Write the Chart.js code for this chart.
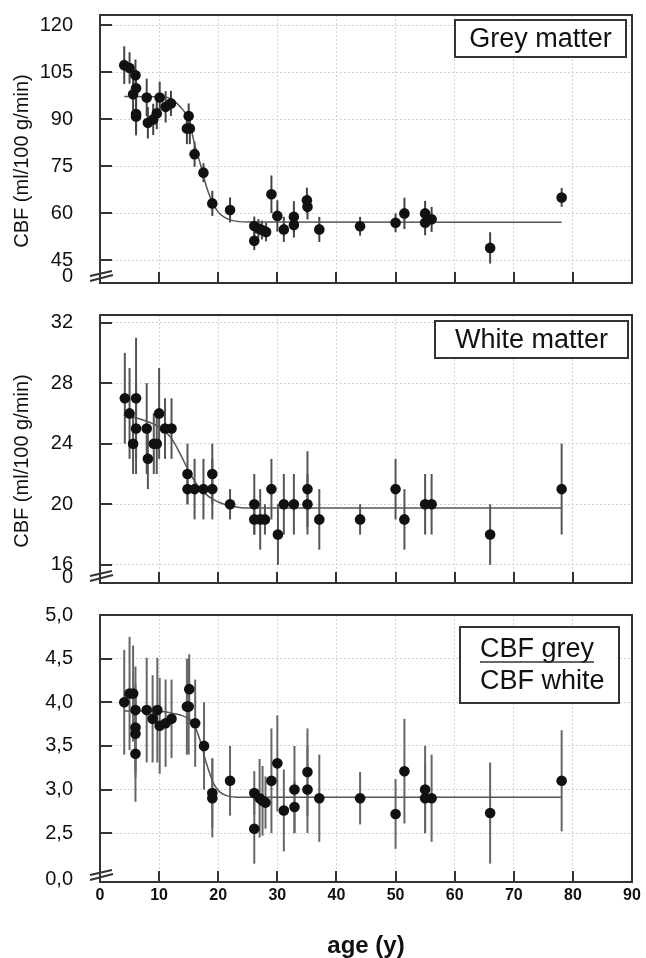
<!DOCTYPE html>
<html>
<head>
<meta charset="utf-8">
<script src="https://cdn.jsdelivr.net/npm/chart.js@4.4.0/dist/chart.umd.min.js"></script>
<style>
  body { margin: 0; background: #fff; }
  canvas { position: absolute; left: 0; }
</style>
</head>
<body>
<canvas id="greyChart" width="646" height="300" style="top:0"></canvas>
<canvas id="whiteChart" width="646" height="290" style="top:300px"></canvas>
<canvas id="ratioChart" width="646" height="368" style="top:590px"></canvas>
<script>
// x axis (age in years)
const ageTicks = [0, 10, 20, 30, 40, 50, 60, 70, 80, 90];

// Grey matter CBF (ml/100 g/min)
const greyAge = [4.1, 5.0, 6.0, 6.1, 5.6, 6.1, 6.1, 7.9, 8.1, 9.0, 9.6, 10.1, 11.1, 12.0, 15.0, 14.7, 15.2, 16.0, 17.5, 19.0, 22.0, 26.1, 26.1, 26.8, 27.4, 28.1, 29.0, 30.0, 31.1, 32.8, 32.8, 35.0, 35.1, 37.1, 44.0, 50.0, 51.5, 55.0, 55.0, 56.1, 66.0, 78.1];
const greyCbf = [107.2, 106.3, 104.0, 99.8, 97.9, 91.6, 90.8, 96.9, 88.8, 89.9, 91.8, 96.9, 93.9, 95.0, 91.0, 87.0, 87.0, 78.8, 72.9, 63.1, 61.0, 55.9, 51.2, 55.1, 54.6, 54.0, 66.0, 59.1, 54.8, 58.8, 56.2, 64.1, 62.0, 54.8, 55.8, 56.9, 59.9, 59.9, 56.9, 58.0, 48.9, 65.0];
const greyErr = [6, 5, 5, 6, 6, 6, 6, 6, 5, 5, 5, 5, 5, 4, 4, 5, 5, 4, 3, 4, 4, 3, 3, 3, 3, 3, 6, 5, 4, 5, 4, 4, 4, 4, 3, 3, 5, 4, 4, 4, 5, 3];
const greyFitAge = [4.1, 10, 12, 13, 14, 15, 16, 17, 18, 19, 20, 21, 22.5, 25, 78.1];
const greyFitCbf = [97.2, 97.1, 96.5, 95, 93, 90, 82, 75.5, 68.5, 63.5, 60.3, 58.7, 57.6, 57.2, 57.1];
const greyTicks = [45, 60, 75, 90, 105, 120];
const greyTickLabels = ['45', '60', '75', '90', '105', '120'];

// White matter CBF (ml/100 g/min)
const whiteAge = [4.2, 5.0, 5.6, 6.1, 6.1, 7.9, 8.1, 9.1, 9.6, 10.0, 11.0, 12.1, 14.8, 14.8, 16.0, 17.5, 19.0, 19.0, 22.0, 26.1, 26.1, 27.1, 27.9, 29.0, 30.1, 31.1, 32.8, 35.1, 35.1, 37.1, 44.0, 50.0, 51.5, 55.0, 56.1, 66.0, 78.1];
const whiteCbf = [27, 26, 24, 27, 25, 25, 23, 24, 24, 26, 25, 25, 22, 21, 21, 21, 22, 21, 20, 20, 19, 19, 19, 21, 18, 20, 20, 21, 20, 19, 19, 21, 19, 20, 20, 18, 21];
const whiteErr = [3, 3, 2, 4, 3, 3, 2, 2, 2, 3, 2, 2, 2, 1, 2, 2, 2, 2, 1, 2, 1, 2, 1, 2, 2, 2, 2, 2.5, 2, 2, 1, 2, 2, 2, 2, 2, 3];
const whiteFitAge = [4, 7, 10, 12, 13.8, 15, 16.4, 17.8, 19.2, 21, 22.6, 25, 78.1];
const whiteFitCbf = [25.9, 25.6, 25.1, 24.4, 23.15, 22.2, 21.3, 20.7, 20.3, 20.0, 19.85, 19.75, 19.75];
const whiteTicks = [16, 20, 24, 28, 32];
const whiteTickLabels = ['16', '20', '24', '28', '32'];

// Ratio CBF grey / CBF white
const ratioAge = [4.1, 5.0, 5.6, 6.0, 6.0, 6.0, 6.0, 7.9, 8.9, 9.7, 10.1, 11.1, 12.1, 14.7, 15.0, 15.1, 16.1, 17.6, 19.0, 19.0, 22.0, 26.1, 26.1, 27.0, 27.5, 28.0, 29.0, 30.0, 31.1, 32.9, 32.9, 35.1, 35.1, 37.1, 44.0, 50.0, 51.5, 55.0, 55.0, 56.1, 66.0, 78.1];
const ratioVal = [4.0, 4.1, 4.1, 3.91, 3.71, 3.64, 3.41, 3.91, 3.81, 3.91, 3.73, 3.76, 3.81, 3.95, 3.95, 4.15, 3.76, 3.5, 2.96, 2.9, 3.1, 2.96, 2.55, 2.9, 2.87, 2.85, 3.1, 3.3, 2.76, 3.0, 2.8, 3.2, 3.0, 2.9, 2.9, 2.72, 3.21, 3.0, 2.9, 2.9, 2.73, 3.1];
const ratioErr = [0.6, 0.65, 0.55, 0.5, 0.5, 0.5, 0.55, 0.6, 0.5, 0.6, 0.55, 0.5, 0.45, 0.55, 0.55, 0.4, 0.5, 0.5, 0.4, 0.45, 0.4, 0.25, 0.4, 0.45, 0.4, 0.3, 0.6, 0.55, 0.47, 0.5, 0.3, 0.5, 0.5, 0.5, 0.3, 0.4, 0.6, 0.5, 0.4, 0.5, 0.58, 0.58];
const ratioFitAge = [4.1, 8, 11, 12.5, 13.8, 15, 15.8, 16.9, 18, 19.2, 20.3, 21.4, 23.7, 78.1];
const ratioFitVal = [3.9, 3.9, 3.89, 3.87, 3.85, 3.81, 3.76, 3.57, 3.3, 3.07, 2.97, 2.93, 2.91, 2.91];
const ratioTicks = [2.5, 3.0, 3.5, 4.0, 4.5, 5.0];
const ratioTickLabels = ['2,5', '3,0', '3,5', '4,0', '4,5', '5,0'];

const FONT = '"Liberation Sans", Arial, sans-serif';
Chart.defaults.font.family = FONT;
Chart.defaults.color = '#111';

function toPoints(xs, ys, errs) {
    return xs.map((x, i) => ({ x: x, y: ys[i], err: errs ? errs[i] : 0 }));
}

// frame, inward ticks, axis break, error bars, boxed label
const panelDecor = {
    id: 'panelDecor',
    beforeDatasetsDraw(chart, args, opts) {
        const { ctx, scales: { x, y } } = chart;
        ctx.save();
        ctx.strokeStyle = opts.barColor;
        ctx.lineWidth = 2;
        chart.data.datasets[0].data.forEach(p => {
            const px = x.getPixelForValue(p.x);
            ctx.beginPath();
            ctx.moveTo(px, y.getPixelForValue(p.y - p.err));
            ctx.lineTo(px, y.getPixelForValue(p.y + p.err));
            ctx.stroke();
        });
        ctx.restore();
    },
    afterDraw(chart, args, opts) {
        const { ctx, chartArea: a, scales: { x, y } } = chart;
        const line = (x1, y1, x2, y2) => {
            ctx.beginPath(); ctx.moveTo(x1, y1); ctx.lineTo(x2, y2); ctx.stroke();
        };
        ctx.save();
        ctx.strokeStyle = '#333';
        ctx.lineWidth = 2;
        ctx.strokeRect(a.left, a.top, a.right - a.left, a.bottom - a.top);

        y.ticks.forEach(t => {
            const py = Math.round(y.getPixelForValue(t.value));
            line(a.left, py, a.left + 12, py);
        });
        x.ticks.forEach(t => {
            if (t.value <= x.min || t.value >= x.max) return;
            const px = Math.round(x.getPixelForValue(t.value));
            line(px, a.bottom, px, a.bottom - 11);
        });

        // axis break marks
        line(a.left - 10, a.bottom - 7, a.left + 12, a.bottom - 12);
        line(a.left - 10, a.bottom - 2, a.left + 13, a.bottom - 8);

        ctx.fillStyle = '#111';
        ctx.font = '20px ' + FONT;
        ctx.textAlign = 'right';
        ctx.textBaseline = 'middle';
        ctx.fillText(opts.breakLabel, a.left - 27, a.bottom - opts.breakDy);

        if (opts.yTitle) {
            ctx.save();
            ctx.translate(22, (a.top + a.bottom) / 2 + 12);
            ctx.rotate(-Math.PI / 2);
            ctx.textAlign = 'center';
            ctx.fillText(opts.yTitle, 0, 0);
            ctx.restore();
        }

        const b = opts.box;
        const bx = a.right - b.dx - b.w;
        const by = a.top + b.dy;
        ctx.fillStyle = '#fff';
        ctx.fillRect(bx, by, b.w, b.h);
        ctx.strokeStyle = '#333';
        ctx.lineWidth = 2;
        ctx.strokeRect(bx, by, b.w, b.h);
        ctx.fillStyle = '#111';
        ctx.font = '27px ' + FONT;
        if (b.lines.length === 1) {
            ctx.textAlign = 'center';
            ctx.fillText(b.lines[0], bx + b.w / 2, by + b.h / 2 + 1);
        } else {
            ctx.textAlign = 'left';
            const tx = bx + 20;
            ctx.fillText(b.lines[0], tx, by + 23);
            const w = ctx.measureText(b.lines[0]).width;
            ctx.lineWidth = 1.5;
            line(tx, by + 35, tx + w, by + 35);
            ctx.fillText(b.lines[1], tx, by + 55);
        }
        ctx.restore();
    }
};

function makePanel(id, cfg) {
    return new Chart(document.getElementById(id), {
        type: 'scatter',
        data: {
            datasets: [{
                data: cfg.points,
                pointRadius: 5.3,
                pointBackgroundColor: '#111',
                pointBorderColor: '#111',
                pointBorderWidth: 0,
                order: 0
            }, {
                type: 'line',
                data: cfg.fit,
                borderColor: '#555',
                borderWidth: 1.5,
                pointRadius: 0,
                cubicInterpolationMode: 'monotone',
                fill: false,
                order: 1
            }]
        },
        options: {
            responsive: false,
            animation: false,
            devicePixelRatio: 1,
            layout: { padding: { top: cfg.top, right: 14, bottom: 0, left: 0 } },
            plugins: {
                legend: { display: false },
                tooltip: { enabled: false },
                panelDecor: {
                    barColor: cfg.barColor,
                    breakLabel: cfg.breakLabel,
                    breakDy: cfg.breakDy,
                    yTitle: cfg.yTitle,
                    box: cfg.box
                }
            },
            scales: {
                x: {
                    type: 'linear',
                    min: 0,
                    max: 90,
                    afterBuildTicks: s => { s.ticks = ageTicks.map(v => ({ value: v })); },
                    afterFit: s => { s.height = cfg.xHeight; s.paddingLeft = 0; s.paddingRight = 0; },
                    grid: { color: '#d4d4d4', drawTicks: false },
                    border: { display: false, dash: [2, 2] },
                    ticks: { display: cfg.showX, padding: 4, color: '#111', font: { size: 16, weight: 'bold' } },
                    title: {
                        display: cfg.showX,
                        text: 'age (y)',
                        color: '#111',
                        padding: 0,
                        font: { size: 24, weight: 'bold', lineHeight: 1 }
                    }
                },
                y: {
                    type: 'linear',
                    min: cfg.yMin,
                    max: cfg.yMax,
                    afterBuildTicks: s => { s.ticks = cfg.yTicks.map(v => ({ value: v })); },
                    afterFit: s => { s.width = 100; s.paddingTop = 0; s.paddingBottom = 0; },
                    grid: { color: '#d4d4d4', drawTicks: false },
                    border: { display: false, dash: [2, 2] },
                    ticks: {
                        autoSkip: false,
                        padding: 27,
                        color: '#111',
                        font: { size: 20 },
                        callback: (v, i) => cfg.yTickLabels[i]
                    }
                }
            }
        },
        plugins: [panelDecor]
    });
}

makePanel('greyChart', {
    points: toPoints(greyAge, greyCbf, greyErr),
    fit: toPoints(greyFitAge, greyFitCbf),
    yMin: 37.7, yMax: 123.2,
    yTicks: greyTicks, yTickLabels: greyTickLabels,
    top: 15, xHeight: 17, showX: false,
    barColor: '#444',
    breakLabel: '0', breakDy: 7,
    yTitle: 'CBF (ml/100 g/min)',
    box: { lines: ['Grey matter'], w: 171, h: 37, dx: 6, dy: 5 }
});

makePanel('whiteChart', {
    points: toPoints(whiteAge, whiteCbf, whiteErr),
    fit: toPoints(whiteFitAge, whiteFitCbf),
    yMin: 14.8, yMax: 32.5,
    yTicks: whiteTicks, yTickLabels: whiteTickLabels,
    top: 15, xHeight: 7, showX: false,
    barColor: '#555',
    breakLabel: '0', breakDy: 6,
    yTitle: 'CBF (ml/100 g/min)',
    box: { lines: ['White matter'], w: 193, h: 37, dx: 4, dy: 6 }
});

makePanel('ratioChart', {
    points: toPoints(ratioAge, ratioVal, ratioErr),
    fit: toPoints(ratioFitAge, ratioFitVal),
    yMin: 1.94, yMax: 5.0,
    yTicks: ratioTicks, yTickLabels: ratioTickLabels,
    top: 25, xHeight: 76, showX: true,
    barColor: '#666',
    breakLabel: '0,0', breakDy: 3,
    yTitle: null,
    box: { lines: ['CBF grey', 'CBF white'], w: 159, h: 76, dx: 13, dy: 12 }
});
</script>
</body>
</html>
